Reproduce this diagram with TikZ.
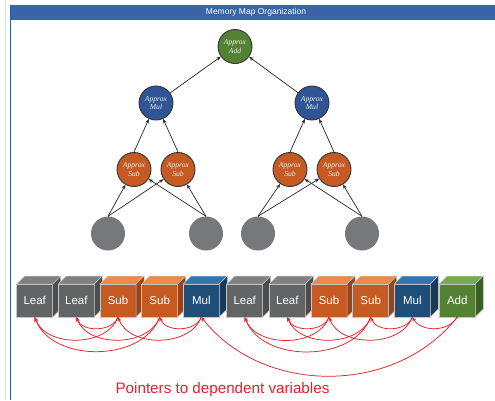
\documentclass[tikz,border=0pt]{standalone}
\usepackage{fontspec}
\setmainfont{Liberation Sans}
\newfontfamily\serifit{Liberation Serif}
\usetikzlibrary{arrows.meta}
\definecolor{titleblue}{HTML}{3A63AA}
\definecolor{borderblue}{HTML}{2F5AAB}
\definecolor{addc}{HTML}{548235}
\definecolor{mulc}{HTML}{2F5597}
\definecolor{subc}{HTML}{C55A22}
\definecolor{grayc}{HTML}{77787B}
\definecolor{leaffront}{HTML}{636466}
\definecolor{leaftop}{HTML}{808083}
\definecolor{leafside}{HTML}{4D4D50}
\definecolor{subfront}{HTML}{C55A22}
\definecolor{subtop}{HTML}{EE8A46}
\definecolor{subside}{HTML}{984416}
\definecolor{mulfront}{HTML}{1F4E79}
\definecolor{multop}{HTML}{2F76B5}
\definecolor{mulside}{HTML}{163A5A}
\definecolor{addfront}{HTML}{548235}
\definecolor{addtop}{HTML}{72AC4D}
\definecolor{addside}{HTML}{3C5F26}
\definecolor{ptrred}{HTML}{E8202A}
\newcommand\mkcube[6]{%
  \node[cubefront, fill=#3, anchor=north west] (#1) at (#2,284) {#6};
  \filldraw[#4, draw=cubeedge, line width=0.5pt] (#1.north west) -- ++(8,-8) -- ++(36,0) -- (#1.north east) -- cycle;
  \filldraw[#5, draw=cubeedge, line width=0.5pt] (#1.north east) -- ++(8,-8) -- ++(0,33) -- (#1.south east) -- cycle;
}
\colorlet{cubeedge}{gray!45}
\begin{document}
\begin{tikzpicture}[x=1pt,y=-1pt,
  tnode/.style={circle, draw=black!80, line width=0.9pt, minimum size=34pt, inner sep=0pt,
    text=white!95!black, font=\serifit\itshape\fontsize{7.6}{8.4}\selectfont, align=center},
  leafc/.style={circle, fill=grayc, minimum size=34pt, inner sep=0pt},
  tarrow/.style={-{Stealth[length=4.5pt,width=3.5pt]}, draw=black!85, line width=0.7pt},
  cubefront/.style={rectangle, draw=cubeedge, line width=0.6pt, minimum width=36pt, minimum height=33pt,
    inner sep=0pt, outer sep=0pt, text=white, font=\fontsize{11.5}{13}\selectfont},
  ptr/.style={-{Stealth[length=4.5pt,width=3.8pt]}, draw=ptrred, line width=0.75pt}
]
\useasboundingbox (0,0) rectangle (495,400);
\fill[white] (0,0) rectangle (495,400);
\draw[black!12, line width=0.8pt] (5,0) -- (5,400);
\fill[titleblue] (10.5,5) rectangle (495,20);
\draw[borderblue, line width=1.1pt] (10.5,5) -- (10.5,400);
\node[text=white, font=\fontsize{8.5}{10}\selectfont] (title) at (256,12.5) {Memory Map Organization};

% tree
\node[tnode, fill=addc] (add) at (235,46.5) {Approx\\Add};
\node[tnode, fill=mulc] (m1) at (156,103) {Approx\\Mul};
\node[tnode, fill=mulc] (m2) at (312,103) {Approx\\Mul};
\node[tnode, fill=subc] (s1) at (134,169.5) {Approx\\Sub};
\node[tnode, fill=subc] (s2) at (178,169.5) {Approx\\Sub};
\node[tnode, fill=subc] (s3) at (290,169.5) {Approx\\Sub};
\node[tnode, fill=subc] (s4) at (334,169.5) {Approx\\Sub};
\node[leafc] (g1) at (108,233.5) {};
\node[leafc] (g2) at (206,233.5) {};
\node[leafc] (g3) at (258,233.5) {};
\node[leafc] (g4) at (362,233.5) {};

\draw[tarrow] (m1) -- (add);
\draw[tarrow] (m2) -- (add);
\draw[tarrow] (s1.north) -- (m1);
\draw[tarrow] (s2.north) -- (m1);
\draw[tarrow] (s3.north) -- (m2);
\draw[tarrow] (s4.north) -- (m2);
\draw[tarrow] (g1.north) -- (s1);
\draw[tarrow] (g1.north) -- (s2);
\draw[tarrow] (g2.north) -- (s1);
\draw[tarrow] (g2.north) -- (s2);
\draw[tarrow] (g3.north) -- (s3);
\draw[tarrow] (g3.north) -- (s4);
\draw[tarrow] (g4.north) -- (s3);
\draw[tarrow] (g4.north) -- (s4);

% memory cubes
\mkcube{b1}{16.7}{leaffront}{leaftop}{leafside}{Leaf}
\mkcube{b2}{58.3}{leaffront}{leaftop}{leafside}{Leaf}
\mkcube{b3}{100}{subfront}{subtop}{subside}{Sub}
\mkcube{b4}{141.7}{subfront}{subtop}{subside}{Sub}
\mkcube{b5}{183.3}{mulfront}{multop}{mulside}{Mul}
\mkcube{b6}{226.7}{leaffront}{leaftop}{leafside}{Leaf}
\mkcube{b7}{269.3}{leaffront}{leaftop}{leafside}{Leaf}
\mkcube{b8}{311}{subfront}{subtop}{subside}{Sub}
\mkcube{b9}{352.7}{subfront}{subtop}{subside}{Sub}
\mkcube{b10}{394.3}{mulfront}{multop}{mulside}{Mul}
\mkcube{b11}{439.3}{addfront}{addtop}{addside}{Add}

% pointers
\draw[ptr] (b3.south) to[bend left=70] (b1.south);
\draw[ptr] (b3.south) to[bend left=70] (b2.south);
\draw[ptr] (b4.south) to[bend left=70] (b1.south);
\draw[ptr] (b4.south) to[bend left=70] (b2.south);
\draw[ptr] (b5.south) to[bend left=70] (b3.south);
\draw[ptr] (b5.south) to[bend left=70] (b4.south);
\draw[ptr] (b8.south) to[bend left=70] (b6.south);
\draw[ptr] (b8.south) to[bend left=70] (b7.south);
\draw[ptr] (b9.south) to[bend left=70] (b6.south);
\draw[ptr] (b9.south) to[bend left=70] (b7.south);
\draw[ptr] (b10.south) to[bend left=70] (b8.south);
\draw[ptr] (b10.south) to[bend left=70] (b9.south);
\draw[ptr] (b11.south) to[bend left=60] (b10.south);
\draw[ptr] (b11.south) to[bend left=52] (b5.south);

\node[text=ptrred, font=\fontsize{15.2}{17}\selectfont, anchor=base] (cap) at (222.5,393.3) {Pointers to dependent variables};
\end{tikzpicture}
\end{document}
